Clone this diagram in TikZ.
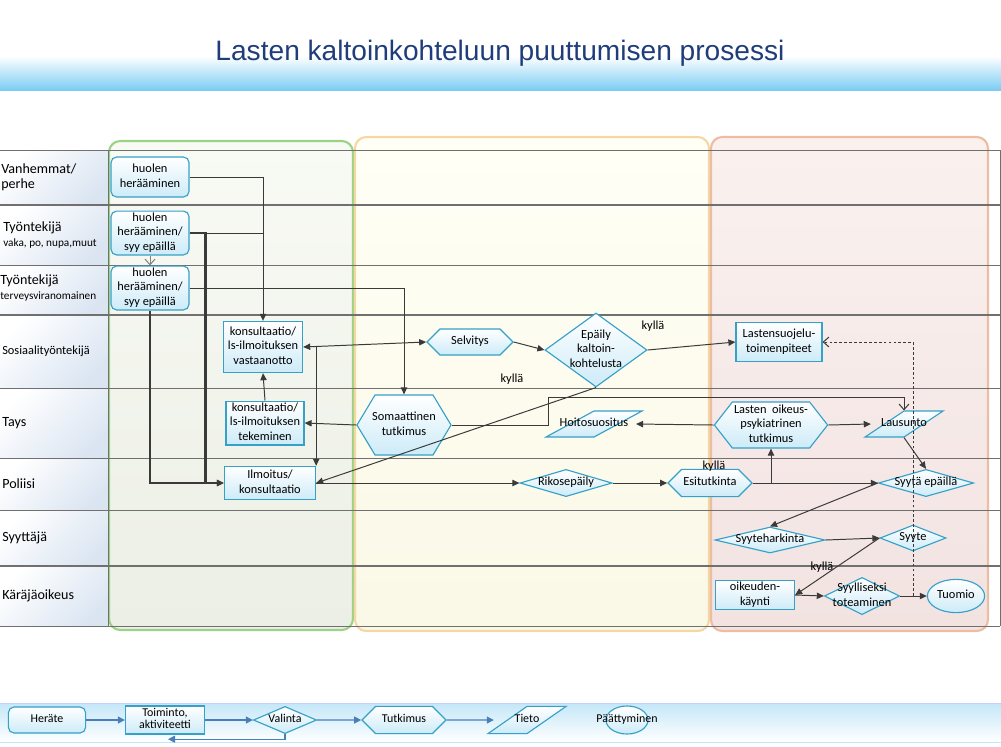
\documentclass[tikz,border=0pt]{standalone}
\usepackage{fontspec}
\setmainfont{Carlito}
\newfontfamily\titlefont{Liberation Sans}
\usetikzlibrary{arrows.meta,shapes.geometric,shapes.symbols}

\definecolor{titleblue}{HTML}{1F3D7A}
\definecolor{bandblue}{HTML}{7CCDF4}
\definecolor{nodeline}{HTML}{35A0C8}
\definecolor{nodefill}{HTML}{CDEBF8}
\definecolor{lanefill}{HTML}{DBE5F2}
\definecolor{laneline}{HTML}{707070}
\definecolor{conncol}{HTML}{3A3A3A}
\definecolor{greenline}{HTML}{9CD285}
\definecolor{greentop}{HTML}{F8FAF4}
\definecolor{greenbot}{HTML}{ECEFE5}
\definecolor{yellowline}{HTML}{F5D7A4}
\definecolor{yellowtop}{HTML}{FFFFF6}
\definecolor{yellowbot}{HTML}{FAF8E6}
\definecolor{redline}{HTML}{ECBDA3}
\definecolor{redtop}{HTML}{FAF1EF}
\definecolor{redbot}{HTML}{F2E3E1}
\definecolor{legline}{HTML}{4A7EBB}
\definecolor{legtop}{HTML}{C4E7F8}

\newcommand{\ctr}[1]{\makebox[0pt]{\begin{tabular}{@{}c@{}}#1\end{tabular}}}

\begin{document}
\begin{tikzpicture}[x=0.025cm, y=-0.025cm,
    >={Triangle[length=5pt,width=4.5pt]},
    txt/.style={font=\fontsize{8.8}{10.4}\selectfont},
    legtxt/.style={font=\fontsize{8.5}{9}\selectfont},
    shapebase/.style={txt, draw=nodeline, line width=0.8pt, top color=white, bottom color=nodefill, inner sep=0pt},
    rbox/.style={shapebase, rectangle, rounded corners=4pt},
    box/.style={shapebase, rectangle},
    dia/.style={shapebase, diamond, aspect=1},
    hexa/.style={shapebase, signal, signal to=east and west},
    para/.style={shapebase, trapezium, trapezium left angle=65, trapezium right angle=115, trapezium stretches=true},
    oval/.style={shapebase, ellipse},
    lanelabel/.style={anchor=west, align=left, inner sep=0pt, font=\fontsize{10}{11}\selectfont},
    yes/.style={txt, inner sep=0pt},
    link/.style={draw=conncol, line width=0.7pt},
    conn/.style={link, ->},
    heavy/.style={link, line width=1.6pt, ->},
    openend/.style={link, -{Straight Barb[length=4pt,width=7pt]}},
    dashlink/.style={link, dash pattern=on 2pt off 1.5pt, -{Straight Barb[length=4pt,width=7pt]}},
    legarrow/.style={draw=legline, line width=0.8pt, -{Triangle[length=5pt,width=5pt]}}]
    \useasboundingbox (0,0) rectangle (1001,746);

    % title band
    \shade[top color=white, bottom color=bandblue] (0,56) rectangle (1001,90);
    \node[font=\titlefont\fontsize{20}{24}\selectfont, text=titleblue] (title) at (500,53) {Lasten kaltoinkohteluun puuttumisen prosessi};

    % phases
    \draw[line width=1.5pt, draw=greenline, top color=greentop, bottom color=greenbot, rounded corners=8pt] (109,141) rectangle (353,630);
    \draw[line width=1.5pt, draw=yellowline, top color=yellowtop, bottom color=yellowbot, rounded corners=8pt] (355,137) rectangle (709,631);
    \draw[line width=1.5pt, draw=redline, top color=redtop, bottom color=redbot, rounded corners=8pt] (711,137) rectangle (988,631);

    % lanes
    \foreach \ya/\yb in {150/205, 205/265, 265/315, 315/388, 388/458, 458/510, 510/566, 566/626}
        \shade[top color=white, bottom color=lanefill, shading angle=45] (0,\ya) rectangle (108,\yb);
    \foreach \y/\w in {150/0.7, 205/1.3, 265/0.7, 315/1.3, 388/0.7, 458/0.7, 510/0.7, 566/1.3, 626/0.7}
        \draw[laneline, line width=\w pt] (0,\y) -- (1000,\y);
    \draw[laneline, line width=0.7pt] (108,150) -- (108,626);
    \draw[laneline, line width=0.7pt] (1000,150) -- (1000,626);

    \node[lanelabel] (lvan) at (1,177) {Vanhemmat/\\perhe};
    \node[lanelabel] (lvaka) at (3,235) {Työntekijä\\{\fontsize{8}{9}\selectfont vaka, po, nupa,muut}};
    \node[lanelabel] (lterv) at (0,288) {Työntekijä\\{\fontsize{8}{9}\selectfont terveysviranomainen}};
    \node[lanelabel, font=\fontsize{8.8}{10}\selectfont] (lsos) at (2,351) {Sosiaalityöntekijä};
    \node[lanelabel] (ltays) at (2,423) {Tays};
    \node[lanelabel] (lpol) at (2,484) {Poliisi};
    \node[lanelabel] (lsyy) at (2,538) {Syyttäjä};
    \node[lanelabel] (lkar) at (2,596) {Käräjäoikeus};

    % process
    \node[rbox, minimum width=1.95cm, minimum height=1cm] (h1) at (150,177) {\ctr{huolen\\herääminen}};
    \node[rbox, minimum width=1.95cm, minimum height=1cm] (h2) at (150,233) {\ctr{huolen\\herääminen/\\syy epäillä}};
    \node[rbox, minimum width=1.95cm, minimum height=1.08cm] (h3) at (150,288) {\ctr{huolen\\herääminen/\\syy epäillä}};
    \node[box, minimum width=1.98cm, minimum height=1.28cm] (kv) at (263,347) {\ctr{konsultaatio/\\ls-ilmoituksen\\vastaanotto}};
    \node[box, minimum width=1.95cm, minimum height=1.03cm] (kt) at (265,423) {\ctr{konsultaatio/\\ls-ilmoituksen\\tekeminen}};
    \node[box, minimum width=2.28cm, minimum height=0.83cm] (il) at (270,483) {\ctr{Ilmoitus/\\konsultaatio}};
    \node[hexa, minimum width=2.15cm, minimum height=0.65cm] (selv) at (470,342) {\ctr{Selvitys}};
    \node[dia, minimum width=2.55cm, minimum height=1.85cm] (ep) at (596,350) {\ctr{Epäily\\kaltoin-\\kohtelusta}};
    \node[hexa, signal pointer angle=118, minimum width=2.35cm, minimum height=1.5cm] (som) at (404,425) {\ctr{Somaattinen\\tutkimus}};
    \node[para, minimum width=2.4cm, minimum height=0.65cm] (hoito) at (594,424) {\ctr{Hoitosuositus}};
    \node[dia, minimum width=2.3cm, minimum height=0.68cm] (rik) at (566,483) {\ctr{Rikosepäily}};
    \node[hexa, minimum width=2.1cm, minimum height=0.68cm] (esi) at (710,483) {\ctr{Esitutkinta}};
    \node[box, minimum width=2.15cm, minimum height=0.98cm] (ls) at (779,342) {\ctr{Lastensuojelu-\\toimenpiteet}};
    \node[hexa, signal pointer angle=104, minimum width=2.83cm, minimum height=1.15cm] (lop) at (771,425) {\ctr{Lasten\ \ oikeus-\\psykiatrinen\\tutkimus}};
    \node[para, minimum width=1.95cm, minimum height=0.65cm] (laus) at (904,424) {\ctr{Lausunto}};
    \node[dia, minimum width=2.38cm, minimum height=0.68cm] (syyt) at (926,483) {\ctr{Syytä epäillä}};
    \node[dia, minimum width=2.75cm, minimum height=0.65cm] (harkinta) at (770,540) {\ctr{Syyteharkinta}};
    \node[dia, minimum width=1.65cm, minimum height=0.65cm] (syyte) at (913,538) {\ctr{Syyte}};
    \node[box, minimum width=1.98cm, minimum height=0.73cm] (ok) at (755,595) {\ctr{oikeuden-\\käynti}};
    \node[dia, minimum width=1.88cm, minimum height=0.93cm] (syyl) at (862,596) {\ctr{Syylliseksi\\toteaminen}};
    \node[oval, minimum width=1.43cm, minimum height=0.83cm] (tuomio) at (956,596) {\ctr{Tuomio}};

    \node[yes] (y1) at (653,326) {kyllä};
    \node[yes] (y2) at (512,379) {kyllä};
    \node[yes] (y3) at (714,466) {kyllä};
    \node[yes] (y4) at (822,567) {kyllä};

    \draw[conn] (h1.east) -| (kv.north);
    \draw[link] (h2.east) -- (h2.east -| kv.north);
    \draw[heavy] (h2.east) -- ++(16,0) |- (il.west);
    \draw[heavy] (h3.south) |- (il.west);
    \draw[conn] (h3.east) -| (som.north);
    \draw[openend, draw=gray] (h2.south) -- (h3.north);
    \draw[conn, <->] (kv.east) -- (selv.west);
    \draw[conn] (kv.east) ++(13,0) coordinate (kvx) -- (kvx |- il.north);
    \draw[conn] (kt.north) -- (kv.south);
    \draw[conn] (som.west) -- (kt.east);
    \draw[conn] (selv.east) -- (ep.west);
    \draw[conn] (ep.east) -- (ls.west);
    \draw[conn] (ep.south) -- (il.east);
    \draw[openend] (som.east) -| ++(97,-28) -| (laus.north);
    \draw[conn] (lop.west) -- ([xshift=1.05cm]hoito.center);
    \draw[conn] (lop.east) -- ([xshift=-0.83cm]laus.center);
    \draw[conn] (il.east) -- (rik.west);
    \draw[conn] (rik.east) -- (esi.west);
    \draw[conn] (esi.east) -- (syyt.west);
    \draw[conn] (lop.south |- esi.east) -- (lop.south);
    \draw[conn] (laus.south) -- (syyt.north);
    \draw[conn] (syyt.west) -- (harkinta.north);
    \draw[conn] (harkinta.east) -- (syyte.west);
    \draw[conn] (syyte.west) -- (ok.east);
    \draw[conn] (ok.east) -- (syyl.west);
    \draw[conn] (syyl.east) -- (tuomio.west);
    \draw[dashlink] (syyte.center |- tuomio.west) |- (ls.east);

    % legend
    \shade[top color=legtop, bottom color=white] (0,703) rectangle (1001,742);
    \draw[draw=legtop!70!blue!50, line width=0.6pt] (0,703) -- (1001,703);
    \draw[draw=legtop, line width=0.6pt] (0,742) -- (1001,742);
    \node[rbox, legtxt, minimum width=1.93cm, minimum height=0.65cm] (herate) at (47,720) {\ctr{Heräte}};
    \node[box, legtxt, minimum width=1.98cm, minimum height=0.7cm] (toim) at (165,720) {\ctr{Toiminto,\\aktiviteetti}};
    \node[dia, legtxt, minimum width=1.58cm, minimum height=0.68cm] (valinta) at (285,720) {\ctr{Valinta}};
    \node[hexa, legtxt, minimum width=2.1cm, minimum height=0.68cm] (tutk) at (404,720) {\ctr{Tutkimus}};
    \node[para, legtxt, minimum width=1.95cm, minimum height=0.68cm] (tieto) at (527,720) {\ctr{Tieto}};
    \node[oval, legtxt, minimum width=1.05cm, minimum height=0.7cm] (paat) at (627,720) {\ctr{Päättyminen}};
    \draw[legarrow] (herate) -- (toim);
    \draw[legarrow] (toim) -- (valinta);
    \draw[legarrow] (valinta) -- (tutk);
    \draw[legarrow] (tutk) -- ([xshift=-0.83cm]tieto.center);
    \draw[legarrow] (valinta.south) |- ++(-117,5);
\end{tikzpicture}
\end{document}
